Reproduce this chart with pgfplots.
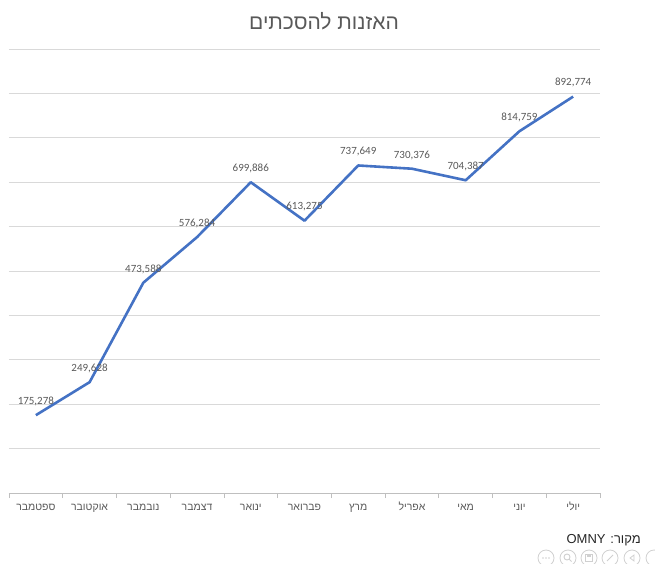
\documentclass[border=0pt]{standalone}
\usepackage{fontspec}
\setmainfont{Liberation Sans}
\newfontfamily\heb[Script=Hebrew]{Liberation Sans}
\newfontfamily\carl{Carlito}
\TeXXeTstate=1
\usepackage{pgfplots}
\pgfplotsset{compat=1.18}
\definecolor{linecol}{HTML}{4472C4}
\definecolor{txtgray}{HTML}{595959}
\definecolor{gridgray}{HTML}{D9D9D9}
\definecolor{axisgray}{HTML}{BFBFBF}
\definecolor{icongray}{HTML}{D0D0D0}
\begin{document}
\begin{tikzpicture}[x=1pt,y=1pt]
\useasboundingbox (0,0) rectangle (655,563);
\begin{axis}[
  at={(9pt,70pt)}, anchor=south west,
  scale only axis, width=591pt, height=444pt,
  xmin=-0.5, xmax=10.5, ymin=0, ymax=1000000,
  axis x line*=bottom, axis y line*=left,
  x axis line style={draw=axisgray, line width=0.8pt, -},
  y axis line style={draw=none},
  ytick={0,100000,...,1000000},
  scaled y ticks=false,
  yticklabels={},
  major y tick style={draw=none},
  ymajorgrids, grid style={draw=gridgray, line width=0.8pt},
  xtick={0,...,10},
  xticklabels={{\beginR ספטמבר\endR},{\beginR אוקטובר\endR},{\beginR נובמבר\endR},{\beginR דצמבר\endR},{\beginR ינואר\endR},{\beginR פברואר\endR},{\beginR מרץ\endR},{\beginR אפריל\endR},{\beginR מאי\endR},{\beginR יוני\endR},{\beginR יולי\endR}},
  xticklabel style={font=\heb\fontsize{10.5}{12}\selectfont, text=txtgray, text height=8pt, text depth=2.5pt, yshift=-2pt},
  major x tick style={draw=none},
  minor xtick={-0.5,0.5,...,10.5},
  minor tick length=5pt,
  minor x tick style={draw=axisgray, line width=0.8pt},
  tick align=outside,
  clip=false,
  nodes near coords,
  point meta=explicit symbolic,
  every node near coord/.append style={font=\carl\fontsize{11}{13}\selectfont, text=txtgray, anchor=south, inner sep=0pt, yshift=8pt},
]
\addplot[linecol, line width=2.6pt, line join=round, mark=none] table[x=x, y=y, meta=lab] {
x y lab
0 175278 175,278
1 249628 249,628
2 473588 473,588
3 576284 576,284
4 699886 699,886
5 613275 613,275
6 737649 737,649
7 730376 730,376
8 704387 704,387
9 814759 814,759
10 892774 892,774
};
\end{axis}
\node[text=txtgray, font=\heb\fontsize{21}{25}\selectfont, inner sep=0pt] at (324,542) {\beginR האזנות להסכתים\endR};
\node[text=black!85, font=\heb\fontsize{13}{15}\selectfont, anchor=east, inner sep=0pt] at (641,23) {\beginR מקור: \beginL OMNY\endL\endR};
\foreach \cx in {546,568,589,610,632,654} {
  \draw[icongray, line width=0.8pt] (\cx,5) circle (8);
}
\foreach \dx in {-3,0,3} { \fill[icongray] (546+\dx,5) circle (0.9); }
\draw[icongray, line width=0.9pt] (567,6) circle (3); \draw[icongray, line width=1pt] (569.2,3.8) -- (571.5,1.5);
\draw[icongray, line width=0.8pt] (585.5,1.5) rectangle (592.5,8.5); \fill[icongray] (587,6) rectangle (591,8.5);
\draw[icongray, line width=0.9pt] (607,2) -- (613,8);
\draw[icongray, line width=0.8pt] (634,2) -- (630,5) -- (634,8) -- cycle;
\end{tikzpicture}
\end{document}
